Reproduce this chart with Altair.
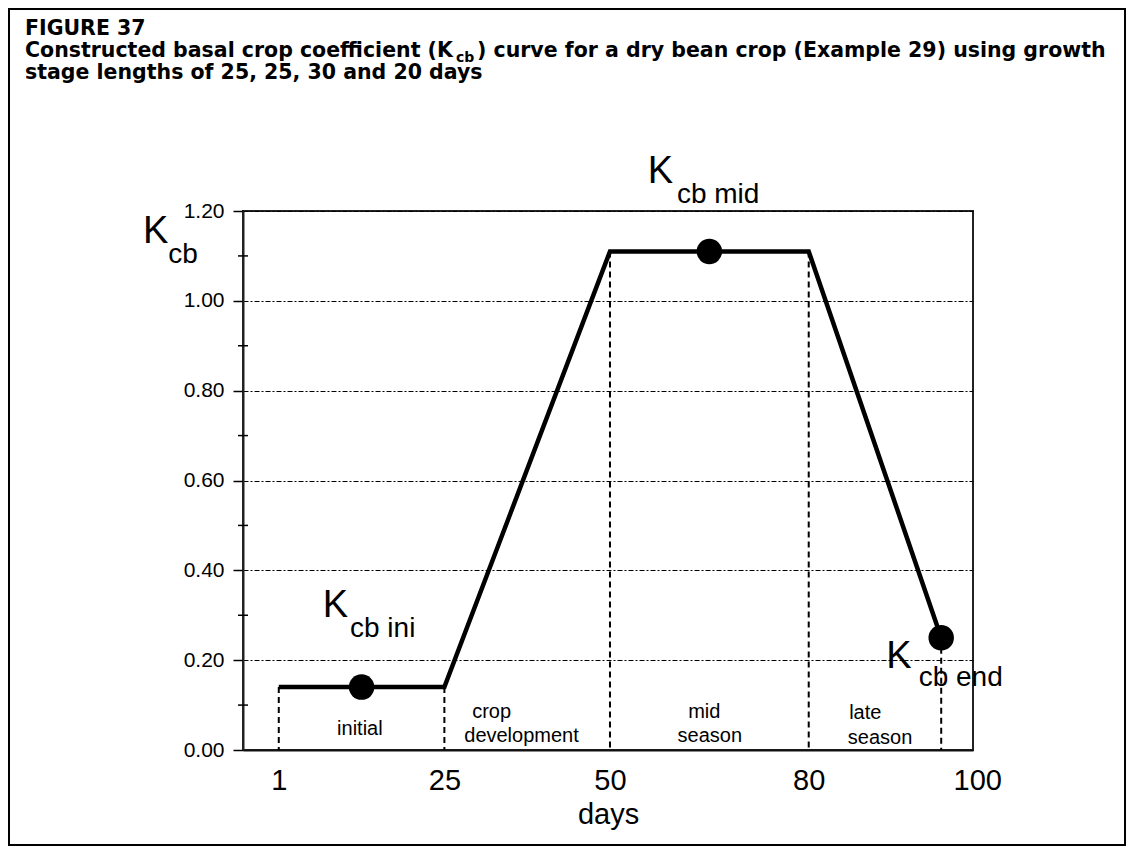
import altair as alt
import pandas as pd

# ---- data ----
days = [0, 25, 50, 80, 100]
kcb = [0.14, 0.14, 1.11, 1.11, 0.25]
point_days = [12.5, 65, 100]
point_kcb = [0.14, 1.11, 0.25]

x_tick_values = [0, 25, 50, 80, 100]
x_tick_labels = ["1", "25", "50", "80", "100"]
y_tick_values = [0.0, 0.2, 0.4, 0.6, 0.8, 1.0, 1.2]
y_minor_values = [0.1, 0.3, 0.5, 0.7, 0.9, 1.1]

stage_words = ["initial", "crop", "development", "mid", "season", "late", "season"]
stage_day = [8.8, 29.2, 28.0, 61.8, 60.2, 86.1, 85.9]
stage_val = [0.033, 0.072, 0.017, 0.072, 0.017, 0.069, 0.014]

k_main_day = [-20.5, 55.7, 6.65, 91.7]
k_main_val = [1.129, 1.262, 0.296, 0.183]
k_sub_text = ["cb", "cb mid", "cb ini", "cb end"]
k_sub_day = [-16.7, 60.1, 10.75, 96.6]
k_sub_val = [1.084, 1.218, 0.252, 0.142]

FONT = "Liberation Sans"
TFONT = "DejaVu Sans"
W, H = 730, 539
PAD = {"left": 235, "top": 203, "right": 153, "bottom": 96}

xs = alt.Scale(domain=[-5.4, 104.8], nice=False, zero=False)
ys = alt.Scale(domain=[0, 1.2], nice=False, zero=True)

line_df = pd.DataFrame({"day": days, "kcb": kcb})
pts_df = pd.DataFrame({"day": point_days, "kcb": point_kcb})
minor_df = pd.DataFrame({"kcb": y_minor_values})
stage_df = pd.DataFrame({"word": stage_words, "day": stage_day, "kcb": stage_val})
kmain_df = pd.DataFrame({"t": ["K"] * len(k_main_day), "day": k_main_day, "kcb": k_main_val})
ksub_df = pd.DataFrame({"t": k_sub_text, "day": k_sub_day, "kcb": k_sub_val})
one = pd.DataFrame({"a": [0]})

label_expr = " : ".join(
    [f"datum.value == {v} ? '{l}'" for v, l in zip(x_tick_values, x_tick_labels)]
) + " : datum.label"

x_axis = alt.Axis(
    values=x_tick_values,
    labelExpr=label_expr,
    ticks=False,
    grid=False,
    domainColor="#111",
    domainWidth=2,
    labelFontSize=29,
    labelFont=FONT,
    labelColor="black",
    labelPadding=16,
    labelOffset={"condition": {"test": "datum.value == 100", "value": 36}, "value": 0},
    title="days",
    titleFont=FONT,
    titleFontSize=29,
    titleFontWeight="normal",
    titleColor="black",
    titlePadding=5,
)
y_axis = alt.Axis(
    values=y_tick_values,
    format=".2f",
    tickSize=10,
    tickWidth=1.5,
    tickColor="black",
    labelFontSize=21,
    labelFont=FONT,
    labelColor="black",
    labelPadding=9,
    grid=True,
    gridDash=[5, 2, 2, 2],
    gridColor="black",
    gridWidth=1.2,
    domainColor="#222",
    domainWidth=2,
    title=None,
)

X = alt.X("day:Q", scale=xs)
Y = alt.Y("kcb:Q", scale=ys)

rules = alt.Chart(line_df).mark_rule(
    color="black", strokeDash=[6, 4], strokeWidth=2
).encode(
    x=alt.X("day:Q", scale=xs, axis=x_axis),
    y=alt.Y("kcb:Q", scale=ys, axis=y_axis),
    y2=alt.datum(0),
)

line = alt.Chart(line_df).mark_line(color="black", strokeWidth=4.5).encode(x=X, y=Y)

points = alt.Chart(pts_df).mark_circle(color="black", size=650, opacity=1).encode(x=X, y=Y)

minor = alt.Chart(minor_df).mark_rule(color="black", strokeWidth=1.5).encode(
    y=Y, x=alt.value(-5), x2=alt.value(5)
)

stage = alt.Chart(stage_df).mark_text(
    align="left", baseline="alphabetic", fontSize=20, font=FONT, color="black"
).encode(x=X, y=Y, text="word:N")

kmain = alt.Chart(kmain_df).mark_text(
    align="left", baseline="alphabetic", fontSize=38, font=FONT, color="black"
).encode(x=X, y=Y, text="t:N")

ksub = alt.Chart(ksub_df).mark_text(
    align="left", baseline="alphabetic", fontSize=28, font=FONT, color="black"
).encode(x=X, y=Y, text="t:N")


def title_piece(txt, px, py, size, align="left"):
    return alt.Chart(one).mark_text(
        text=txt, align=align, baseline="alphabetic", fontSize=size,
        fontWeight="bold", font=TFONT, color="black",
    ).encode(x=alt.value(px), y=alt.value(py))


TL = -218  # title left edge relative to the plot's left side
t1 = title_piece("FIGURE 37", TL, -176, 20.5)
t2a = title_piece("Constructed basal crop coefficient (K", TL, -154, 20.5)
t2b = title_piece("cb", TL + 431, -149, 14)
t2c = title_piece(") curve for a dry bean crop (Example 29) using growth", TL + 452, -154, 20.5)
t3 = title_piece("stage lengths of 25, 25, 30 and 20 days", TL, -132, 20.5)

frame = alt.Chart(one).mark_rect(
    fillOpacity=0, stroke="black", strokeWidth=2
).encode(
    x=alt.value(-PAD["left"] + 1),
    x2=alt.value(W + PAD["right"] - 1),
    y=alt.value(-PAD["top"] + 1),
    y2=alt.value(H + PAD["bottom"] - 1),
)

chart = alt.layer(
    rules, line, points, minor, stage, kmain, ksub, t1, t2a, t2b, t2c, t3, frame
).properties(
    width=W,
    height=H,
    padding=PAD,
    autosize=alt.AutoSizeParams(type="none"),
    background="white",
).configure_view(
    stroke="#222", strokeWidth=2
)

chart.save("out.html", embed_options={"renderer": "svg", "actions": False})
